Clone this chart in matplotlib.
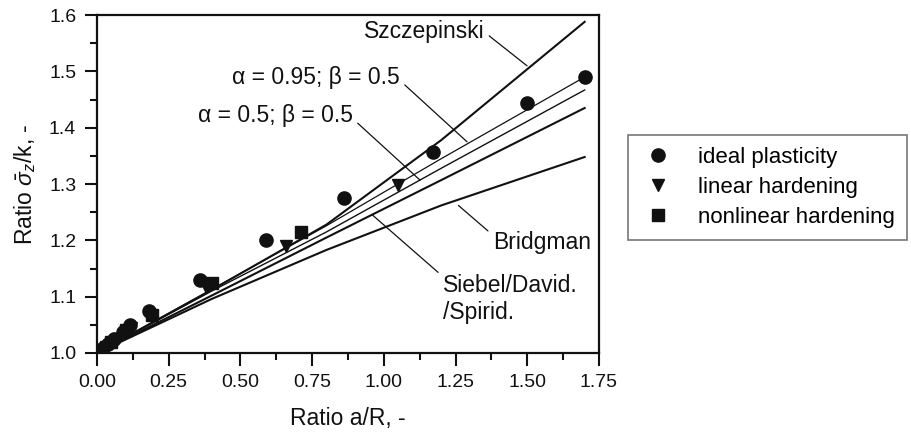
import matplotlib
matplotlib.use('Agg')
import matplotlib.pyplot as plt
from matplotlib.ticker import MultipleLocator, FormatStrFormatter

plt.rcParams['font.family'] = ['Liberation Sans', 'DejaVu Sans']
plt.rcParams['mathtext.fontset'] = 'custom'
plt.rcParams['mathtext.rm'] = 'Liberation Sans'
plt.rcParams['mathtext.it'] = 'Liberation Sans:italic'

# theoretical curves
x_curve = [0.0, 0.4, 0.8, 1.2, 1.7]
y_szcz = [1.0, 1.112, 1.228, 1.378, 1.588]
y_a095 = [1.0, 1.113, 1.226, 1.345, 1.49]
y_a05 = [1.0, 1.11, 1.215, 1.328, 1.467]
y_siebel = [1.0, 1.102, 1.205, 1.307, 1.435]
y_bridg = [1.0, 1.096, 1.183, 1.262, 1.348]

# FE results
x_ideal = [0.0, 0.02, 0.04, 0.06, 0.09, 0.115, 0.18, 0.36, 0.59, 0.86, 1.17, 1.50, 1.70]
y_ideal = [1.0, 1.008, 1.016, 1.025, 1.037, 1.05, 1.075, 1.13, 1.2, 1.275, 1.357, 1.444, 1.49]
x_lin = [0.0, 0.03, 0.07, 0.12, 0.19, 0.38, 0.66, 1.05]
y_lin = [1.0, 1.01, 1.025, 1.045, 1.065, 1.118, 1.19, 1.298]
x_nonlin = [0.0, 0.05, 0.10, 0.19, 0.40, 0.71]
y_nonlin = [1.0, 1.02, 1.04, 1.068, 1.125, 1.215]

fig = plt.figure(figsize=(9.11, 4.44), dpi=100)
ax = fig.add_axes([0.1065, 0.205, 0.551, 0.761])

ink = '#111111'
ax.plot(x_curve, y_szcz, color=ink, lw=1.5)
ax.plot(x_curve, y_a095, color=ink, lw=0.9)
ax.plot(x_curve, y_a05, color=ink, lw=1.0)
ax.plot(x_curve, y_siebel, color=ink, lw=1.5)
ax.plot(x_curve, y_bridg, color=ink, lw=1.5)

ax.plot(x_ideal, y_ideal, 'o', color=ink, ms=9.5, ls='none', label='ideal plasticity')
ax.plot(x_lin, y_lin, 'v', color=ink, ms=9, ls='none', label='linear hardening')
ax.plot(x_nonlin, y_nonlin, 's', color=ink, ms=8, ls='none', label='nonlinear hardening')

fs = 16.5
lead = dict(arrowstyle='-', color=ink, lw=0.9, shrinkA=2, shrinkB=0)
ax.annotate('Szczepinski', xy=(1.499, 1.51), xytext=(1.35, 1.57), ha='right', va='center',
            fontsize=fs, color=ink, arrowprops=dict(lead, relpos=(1, 0.5)))
ax.annotate('\u03b1 = 0.95; \u03b2 = 0.5', xy=(1.29, 1.375), xytext=(1.056, 1.49), ha='right',
            va='center', fontsize=fs, color=ink, arrowprops=dict(lead, relpos=(1, 0.35)))
ax.annotate('\u03b1 = 0.5; \u03b2 = 0.5', xy=(1.126, 1.307), xytext=(0.892, 1.422), ha='right',
            va='center', fontsize=fs, color=ink, arrowprops=dict(lead, relpos=(1, 0.35)))
ax.annotate('Bridgman', xy=(1.26, 1.262), xytext=(1.38, 1.197), ha='left', va='center',
            fontsize=fs, color=ink, arrowprops=dict(lead, relpos=(0, 0.8)))
ax.annotate('Siebel/David.\n/Spirid.', xy=(0.958, 1.246), xytext=(1.206, 1.14), ha='left',
            va='top', fontsize=fs, color=ink, linespacing=1.2,
            arrowprops=dict(lead, relpos=(0, 0.95)))

ax.set_xlim(0, 1.75)
ax.set_ylim(1.0, 1.6)
ax.xaxis.set_major_locator(MultipleLocator(0.25))
ax.xaxis.set_minor_locator(MultipleLocator(0.125))
ax.yaxis.set_major_locator(MultipleLocator(0.1))
ax.yaxis.set_minor_locator(MultipleLocator(0.05))
ax.xaxis.set_major_formatter(FormatStrFormatter('%.2f'))
ax.yaxis.set_major_formatter(FormatStrFormatter('%.1f'))
ax.tick_params(which='major', direction='out', length=9, width=1.5, labelsize=14, pad=6, colors=ink)
ax.tick_params(which='minor', direction='out', length=5, width=1.5, colors=ink)
for s in ax.spines.values():
    s.set_linewidth(1.6)
    s.set_color(ink)

ax.set_xlabel('Ratio a/R, -', fontsize=fs, color=ink, labelpad=12)
ax.set_ylabel(r'Ratio $\bar{\sigma}_z$/k, -', fontsize=fs, color=ink, labelpad=8)

leg = fig.legend(loc='upper left', bbox_to_anchor=(628 / 911, 1 - 135 / 444), fontsize=16,
                 frameon=True, fancybox=False, edgecolor='#555555', handletextpad=1.0,
                 borderpad=0.55, labelspacing=0.4, handlelength=1.6, borderaxespad=0)
leg.get_frame().set_linewidth(1.2)

fig.savefig('out.png', dpi=100)
